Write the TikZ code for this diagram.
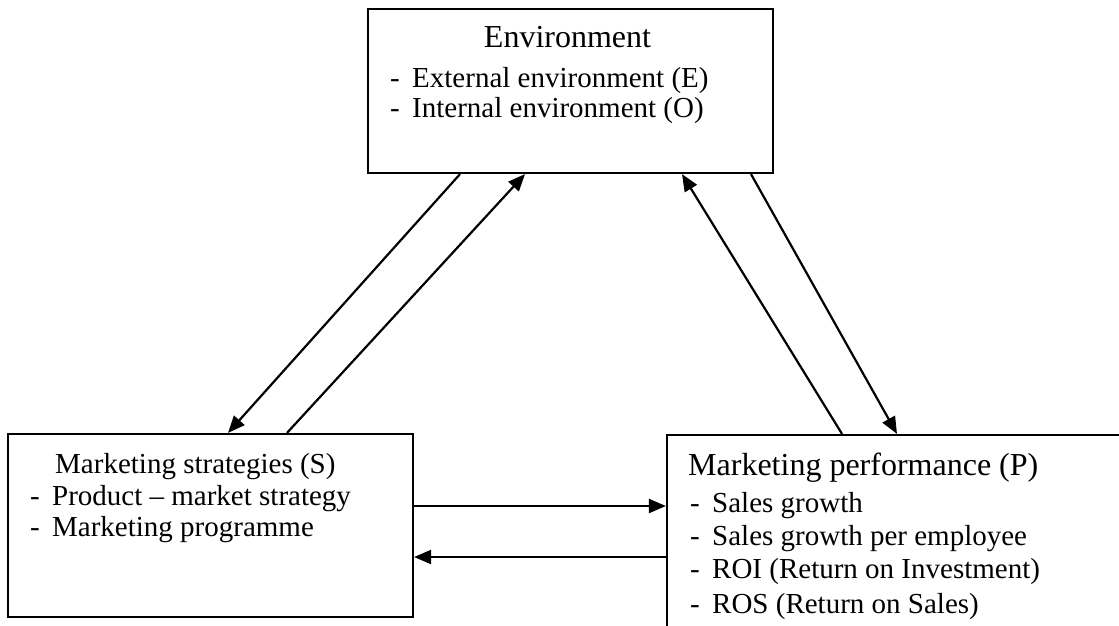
\documentclass[tikz,border=0pt]{standalone}
\usepackage{fontspec}
\setmainfont{Liberation Serif}
\usetikzlibrary{arrows.meta}

\tikzset{
  box/.style={draw, line width=2.2pt, rectangle, inner sep=0pt},
  flow/.style={line width=2.2pt, -{Triangle[length=17pt,width=14pt]}},
  head/.style={anchor=base west, inner sep=0pt, font=\fontsize{32}{36}\selectfont},
  headsm/.style={anchor=base west, inner sep=0pt, font=\fontsize{29}{34}\selectfont},
  item/.style={anchor=base west, inner sep=0pt, font=\fontsize{29}{34}\selectfont},
}
\newcommand{\bul}{\makebox[22pt][l]{-}}

\begin{document}
\begin{tikzpicture}[x=1pt,y=-1pt]
  \clip (0,0) rectangle (1119,625);
  \fill[white] (0,0) rectangle (1119,625);

  % boxes
  \node[box, minimum width=405pt, minimum height=164pt] (env) at (570.5,91) {};
  \node[box, minimum width=405pt, minimum height=183pt] (str) at (210.5,525.5) {};
  \node[box, minimum width=480pt, minimum height=230pt] (perf) at (907,550) {};

  % environment
  \node[anchor=base, inner sep=0pt, font=\fontsize{32}{36}\selectfont] (envT) at (567.5,47) {Environment};
  \node[item] (envA) at (390,87) {\bul External environment (E)};
  \node[item] (envB) at (390,117) {\bul Internal environment (O)};

  % marketing strategies
  \node[headsm] (strT) at (55,473) {Marketing strategies (S)};
  \node[item] (strA) at (30,505) {\bul Product – market strategy};
  \node[item] (strB) at (30,536) {\bul Marketing programme};

  % marketing performance
  \node[head] (perfT) at (688,475) {Marketing performance (P)};
  \node[item] (perfA) at (690,512) {\bul Sales growth};
  \node[item] (perfB) at (690,545) {\bul Sales growth per employee};
  \node[item] (perfC) at (690,578) {\bul ROI (Return on Investment)};
  \node[item] (perfD) at (690,613) {\bul ROS (Return on Sales)};

  % connectors
  \draw[flow] (460,0 |- env.south) -- (228,0 |- str.north);
  \draw[flow] (287,0 |- str.north) -- (525,0 |- env.south);
  \draw[flow] (842,0 |- perf.north) -- (682,0 |- env.south);
  \draw[flow] (751,0 |- env.south) -- (897,0 |- perf.north);
  \draw[flow] (str.east |- 0,506) -- (perf.west |- 0,506);
  \draw[flow] (perf.west |- 0,557) -- (str.east |- 0,557);
\end{tikzpicture}
\end{document}
